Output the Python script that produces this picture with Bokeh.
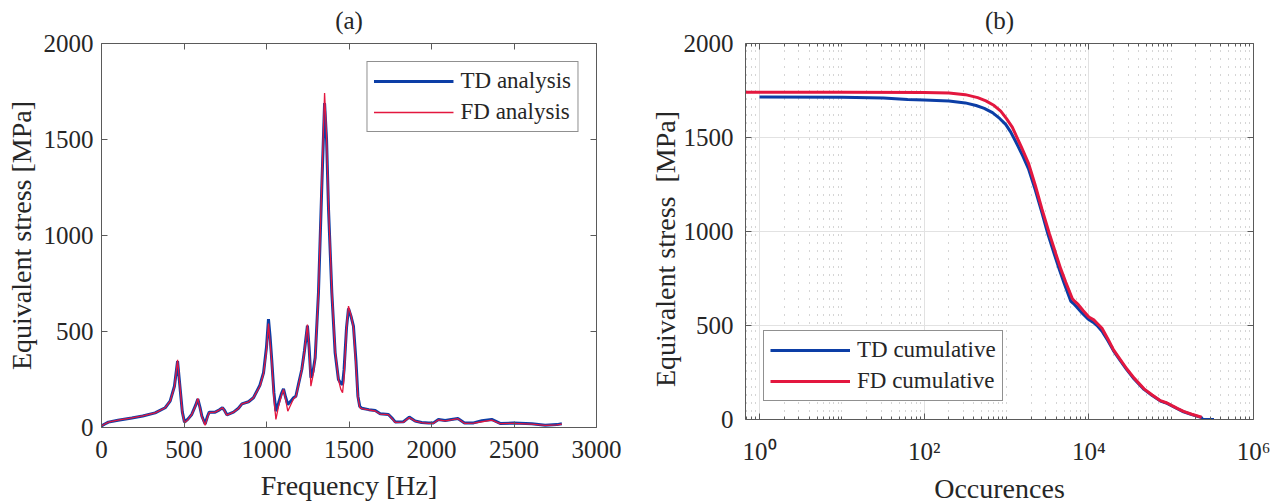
from bokeh.plotting import figure
from bokeh.models import (Range1d, LinearAxis, LogAxis, FixedTicker, CustomJSTickFormatter)
from bokeh.layouts import row
from bokeh.embed import file_html
from bokeh.resources import INLINE

FONT = "Liberation Serif"
BLUE = "#0c3ea6"
RED = "#e3173f"

# ---------------- (a) spectrum data ----------------
freq = [0, 20, 42, 100, 184, 250, 325, 386, 416, 442, 461, 477, 490, 503, 525, 547, 570, 584,
        597, 608, 628, 643, 653, 689, 715, 733, 745, 760, 800, 830, 851, 891, 921, 960, 982,
        1000, 1012, 1022, 1032, 1045, 1057, 1073, 1090, 1103, 1115, 1129, 1145, 1164, 1178,
        1195, 1214, 1230, 1248, 1258, 1269, 1282, 1295, 1315, 1335, 1352, 1364, 1376, 1396,
        1416, 1436, 1450, 1461, 1470, 1485, 1497, 1512, 1527, 1542, 1554, 1565, 1578, 1620,
        1659, 1689, 1739, 1765, 1780, 1830, 1865, 1901, 1940, 1982, 2012, 2042, 2083, 2120,
        2160, 2200, 2255, 2305, 2365, 2416, 2497, 2608, 2689, 2760, 2790]
td_stress = [8, 18, 28, 38, 50, 60, 76, 103, 137, 215, 345, 198, 80, 28, 45, 68, 115, 148,
             105, 60, 18, 60, 80, 80, 92, 103, 90, 66, 80, 100, 123, 134, 155, 220, 285,
             420, 565, 470, 350, 180, 85, 128, 175, 201, 160, 120, 135, 155, 163,
             230, 302, 400, 530, 420, 259, 290, 363, 703, 1250, 1690, 1500, 1135, 701,
             389, 250, 230, 224, 300, 520, 620, 580, 528, 350, 163, 110, 100, 93,
             88, 71, 68, 45, 29, 30, 54, 34, 26, 24, 24, 42, 36, 42,
             47, 23, 24, 35, 42, 21, 23, 19, 12, 15, 19]
fd_stress = [8, 18, 28, 38, 50, 60, 76, 103, 137, 210, 352, 200, 75, 24, 42, 68, 112, 152,
             100, 56, 12, 55, 78, 80, 92, 103, 88, 64, 80, 99, 123, 134, 155, 215, 280,
             400, 542, 440, 340, 150, 42, 110, 165, 198, 150, 85, 115, 150, 160,
             225, 300, 395, 536, 420, 215, 270, 360, 700, 1280, 1742, 1520, 1150, 710,
             400, 250, 200, 181, 260, 520, 632, 585, 520, 320, 160, 105, 98, 92,
             86, 70, 67, 42, 27, 28, 52, 33, 25, 22, 22, 40, 34, 40,
             46, 22, 23, 30, 38, 20, 22, 18, 11, 14, 18]

# ---------------- (b) cumulative data ----------------
td_occ = [1, 10, 32, 50, 63, 100, 200, 316, 427, 537, 676, 832, 977, 1122, 1288, 1585, 1862,
          2239, 2692, 3162, 3802, 4365, 5012, 6026, 6457, 7079, 8318, 9772, 11220, 12589,
          14454, 16982, 19953, 23988, 28840, 35481, 46774, 58884, 74131, 89125, 102329,
          120226, 141254, 177828, 234423, 239883, 331131]
td_val = [1716, 1714, 1710, 1705, 1702, 1700, 1694, 1684, 1670, 1655, 1632, 1600, 1570, 1530,
          1480, 1400, 1330, 1220, 1100, 990, 880, 800, 725, 630, 618, 600, 565, 535, 518, 500,
          470, 420, 365, 315, 265, 215, 160, 127, 98, 86, 72,
          56, 41, 26, 10, 0, 0]
fd_occ = [0.676, 1, 10, 100, 200, 316, 447, 562, 708, 851, 1000, 1175, 1514, 1862, 2239,
          2692, 3311, 3981, 4571, 5248, 6310, 6761, 7413, 8511, 10000, 11482, 12589, 14454,
          16982, 19953, 23988, 28840, 35481, 46774, 58884, 74131, 89125, 102329, 120226,
          141254, 177828, 234423]
fd_val = [1741, 1741, 1741, 1740, 1737, 1728, 1712, 1695, 1670, 1640, 1600, 1555, 1450, 1360,
          1245, 1120, 990, 880, 800, 730, 642, 628, 612, 580, 545, 530, 512, 485,
          430, 370, 320, 270, 220, 163, 130, 100, 88, 74, 58,
          43, 28, 12]

lin_x_ticks = [0, 500, 1000, 1500, 2000, 2500, 3000]
lin_y_ticks = [0, 500, 1000, 1500, 2000]
log_x_ticks = [1, 100, 10000, 1000000]
log_x_labels = ["10\u2070", "10\u00b2", "10\u2074", "10\u2076"]
log_minor = [0.7, 0.8, 0.9] + [k * 10 ** d for d in range(0, 6) for k in range(1, 10)
                               if (k * 10 ** d) not in log_x_ticks]

AX = "#5a5a5a"
TXT = "#262626"


def blank():
    return CustomJSTickFormatter(code="return '';")


def style_axis(ax, labels=True, minor=0):
    ax.axis_line_color = AX
    ax.axis_line_width = 1
    ax.major_tick_line_color = AX
    ax.minor_tick_line_color = AX
    ax.major_tick_in = 6
    ax.major_tick_out = 0
    ax.minor_tick_in = minor
    ax.minor_tick_out = 0
    ax.major_label_text_font = FONT
    ax.major_label_text_color = TXT
    ax.axis_label_text_font = FONT
    ax.axis_label_text_font_style = "normal"
    ax.axis_label_text_color = TXT
    ax.axis_label_text_font_size = "28px"
    if labels:
        ax.major_label_text_font_size = "25px"
        ax.major_label_standoff = 8
    else:
        ax.formatter = blank()
        ax.major_label_text_font_size = "1px"
        ax.major_label_standoff = 0


def as_title(ax, txt):
    # panel caption drawn as the label of the (label-less) top axis
    ax.axis_label = txt
    ax.axis_label_text_font_size = "25px"
    ax.axis_label_standoff = 10


def style_legend(lg):
    lg.label_text_font = FONT
    lg.label_text_font_size = "23px"
    lg.label_text_color = TXT
    lg.border_line_color = "#222222"
    lg.border_line_width = 1
    lg.background_fill_alpha = 1
    lg.glyph_width = 80
    lg.glyph_height = 20
    lg.label_height = 20
    lg.spacing = 5
    lg.padding = 6
    lg.margin = 18
    lg.label_standoff = 7


# ---------------- figure (a) ----------------
p1 = figure(frame_width=495, frame_height=384, x_range=Range1d(0, 3000), y_range=Range1d(0, 2000),
            output_backend="svg", toolbar_location=None,
            min_border_left=101, min_border_right=40, min_border_top=42, min_border_bottom=60)
p1.outline_line_color = None
p1.xgrid.visible = False
p1.ygrid.visible = False
p1.xaxis.ticker = FixedTicker(ticks=lin_x_ticks)
p1.yaxis.ticker = FixedTicker(ticks=lin_y_ticks)
p1.xaxis.axis_label = "Frequency [Hz]"
p1.yaxis.axis_label = "Equivalent stress [MPa]"
style_axis(p1.xaxis[0])
style_axis(p1.yaxis[0])
p1.yaxis.axis_label_standoff = 4
p1.xaxis.axis_label_standoff = 9
p1.xaxis.major_label_standoff = 13
top1 = LinearAxis(ticker=FixedTicker(ticks=lin_x_ticks))
right1 = LinearAxis(ticker=FixedTicker(ticks=lin_y_ticks))
style_axis(top1, labels=False)
style_axis(right1, labels=False)
as_title(top1, "(a)")
p1.add_layout(top1, "above")
p1.add_layout(right1, "right")

p1.line(freq, td_stress, line_color=BLUE, line_width=3, legend_label="TD analysis")
p1.line(freq, fd_stress, line_color=RED, line_width=1.3, legend_label="FD analysis")
p1.legend.location = "top_right"
style_legend(p1.legend[0])

# ---------------- figure (b) ----------------
p2 = figure(frame_width=508, frame_height=376, x_axis_type="log", x_range=Range1d(0.676, 1e6),
            y_range=Range1d(0, 2000), output_backend="svg", toolbar_location=None,
            min_border_left=109, min_border_right=20, min_border_top=43, min_border_bottom=60)
p2.outline_line_color = None
xt = FixedTicker(ticks=log_x_ticks, minor_ticks=log_minor)
p2.xaxis.ticker = xt
p2.yaxis.ticker = FixedTicker(ticks=lin_y_ticks)
p2.xaxis.formatter = CustomJSTickFormatter(
    args=dict(t=log_x_ticks, l=log_x_labels),
    code="const i = t.indexOf(tick); return i >= 0 ? l[i] : '';")
p2.xaxis.axis_label = "Occurences"
p2.yaxis.axis_label = "Equivalent stress\u00a0\u00a0[MPa]\u00a0\u00a0\u00a0\u00a0\u00a0"
style_axis(p2.xaxis[0], minor=3)
style_axis(p2.yaxis[0])
p2.yaxis.axis_label_standoff = 0
p2.yaxis.major_label_standoff = 12
p2.xaxis.major_label_standoff = 18
p2.xaxis.axis_label_standoff = 5
top2 = LogAxis(ticker=xt)
right2 = LinearAxis(ticker=FixedTicker(ticks=lin_y_ticks))
style_axis(top2, labels=False, minor=3)
style_axis(right2, labels=False)
as_title(top2, "(b)")
p2.add_layout(top2, "above")
p2.add_layout(right2, "right")

p2.xgrid.grid_line_color = "#e2e2e2"
p2.xgrid.minor_grid_line_color = "#aaaaaa"
p2.xgrid.minor_grid_line_dash = "1 7"
p2.ygrid.grid_line_color = "#e2e2e2"

p2.line(td_occ, td_val, line_color=BLUE, line_width=3, legend_label="TD cumulative")
p2.line(fd_occ, fd_val, line_color=RED, line_width=3, legend_label="FD cumulative")
p2.legend.location = "bottom_left"
style_legend(p2.legend[0])

layout = row(p1, p2)
open("out.html", "w").write(file_html(layout, INLINE))
